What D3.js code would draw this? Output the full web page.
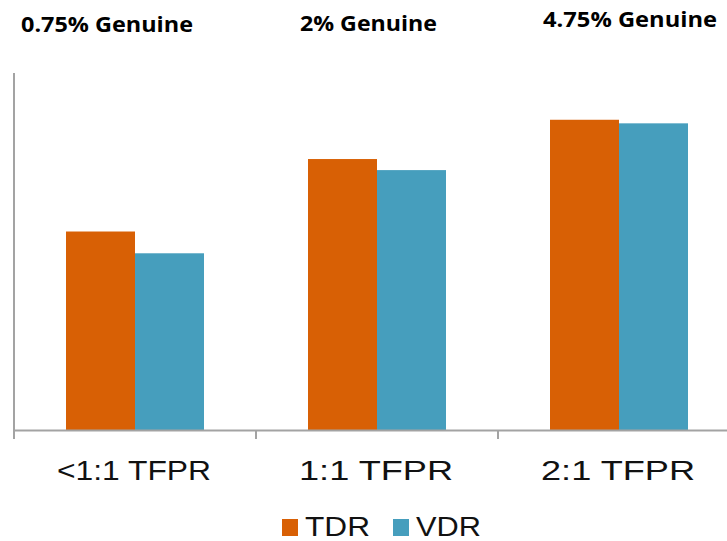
<!DOCTYPE html>
<html>
<head>
<meta charset="utf-8">
<script src="https://cdn.jsdelivr.net/npm/d3@7"></script>
<style>
  body { margin: 0; background: #fff; }
  svg { display: block; }
</style>
</head>
<body>
<div id="chart"></div>
<script>
// data
var categories = ["<1:1 TFPR", "1:1 TFPR", "2:1 TFPR"]
var series = ["TDR", "VDR"]
var tdrValues = [55.6, 75.9, 86.9]
var vdrValues = [49.5, 72.8, 85.9]
var titles = ["0.75% Genuine", "2% Genuine", "4.75% Genuine"]

var colors = { TDR: "#d86005", VDR: "#469ebd" }

var width = 727, height = 541
var margin = { left: 14, top: 73, bottom: 111 }
var baseY = height - margin.bottom   // 430

var svg = d3.select("#chart").append("svg")
  .attr("width", width)
  .attr("height", height)

var x = d3.scaleBand()
  .domain(categories)
  .range([margin.left, margin.left + 242 * 3])

var xInner = d3.scaleBand()
  .domain(series)
  .range([52, x.bandwidth() - 52])

var y = d3.scaleLinear()
  .domain([0, 100])
  .range([baseY, margin.top])

var rows = categories.map((c, i) => ({ cat: c, TDR: tdrValues[i], VDR: vdrValues[i] }))

// bars
var groups = svg.append("g").selectAll("g")
  .data(rows)
  .join("g")
    .attr("transform", d => "translate(" + x(d.cat) + ",0)")

groups.selectAll("rect")
  .data(d => series.map(s => ({ key: s, value: d[s] })))
  .join("rect")
    .attr("x", d => xInner(d.key))
    .attr("y", d => y(d.value))
    .attr("width", xInner.bandwidth())
    .attr("height", d => baseY - y(d.value))
    .attr("fill", d => colors[d.key])

// axes
var axisColor = "#a3a3a3"
svg.append("line")
  .attr("x1", margin.left).attr("x2", margin.left)
  .attr("y1", margin.top).attr("y2", baseY + 9)
  .attr("stroke", axisColor).attr("stroke-width", 2)

var xAxis = d3.axisBottom(x).tickSize(0).tickFormat("")
svg.append("g")
  .attr("transform", "translate(0," + baseY + ")")
  .call(xAxis)
  .call(g => g.select(".domain").attr("stroke", axisColor).attr("stroke-width", 2))

svg.append("g").selectAll("line")
  .data(categories.map(c => x(c)).concat([x.range()[1]]))
  .join("line")
    .attr("x1", d => d).attr("x2", d => d)
    .attr("y1", baseY).attr("y2", baseY + 9)
    .attr("stroke", axisColor).attr("stroke-width", 2)

// category labels
svg.append("g").selectAll("text")
  .data(categories)
  .join("text")
    .attr("x", d => x(d) + x.bandwidth() / 2 - 1)
    .attr("y", 480)
    .attr("text-anchor", "middle")
    .attr("font-family", "Liberation Sans, Arial, sans-serif")
    .attr("font-size", 28)
    .attr("textLength", 154)
    .attr("lengthAdjust", "spacingAndGlyphs")
    .attr("fill", "#111")
    .text(d => d)

// titles above each group
var titleX = [21, 300, 543]
var titleY = [32, 31, 27]
var titleW = [172, 137, 174]
svg.append("g").selectAll("text")
  .data(titles)
  .join("text")
    .attr("x", (d, i) => titleX[i])
    .attr("y", (d, i) => titleY[i])
    .attr("font-family", "Open Sans, sans-serif")
    .attr("font-weight", "bold")
    .attr("font-size", 22)
    .attr("textLength", (d, i) => titleW[i])
    .attr("lengthAdjust", "spacingAndGlyphs")
    .attr("fill", "#000")
    .text(d => d)

// legend
var legendX = [282, 393]
var legend = svg.append("g").selectAll("g")
  .data(series)
  .join("g")
    .attr("transform", (d, i) => "translate(" + legendX[i] + ",519)")

legend.append("rect")
  .attr("width", 16).attr("height", 17)
  .attr("fill", d => colors[d])

legend.append("text")
  .attr("x", 23)
  .attr("y", 17)
  .attr("font-family", "Liberation Sans, Arial, sans-serif")
  .attr("font-size", 27)
  .attr("textLength", 65)
  .attr("lengthAdjust", "spacingAndGlyphs")
  .attr("fill", "#111")
  .text(d => d)
</script>
</body>
</html>
